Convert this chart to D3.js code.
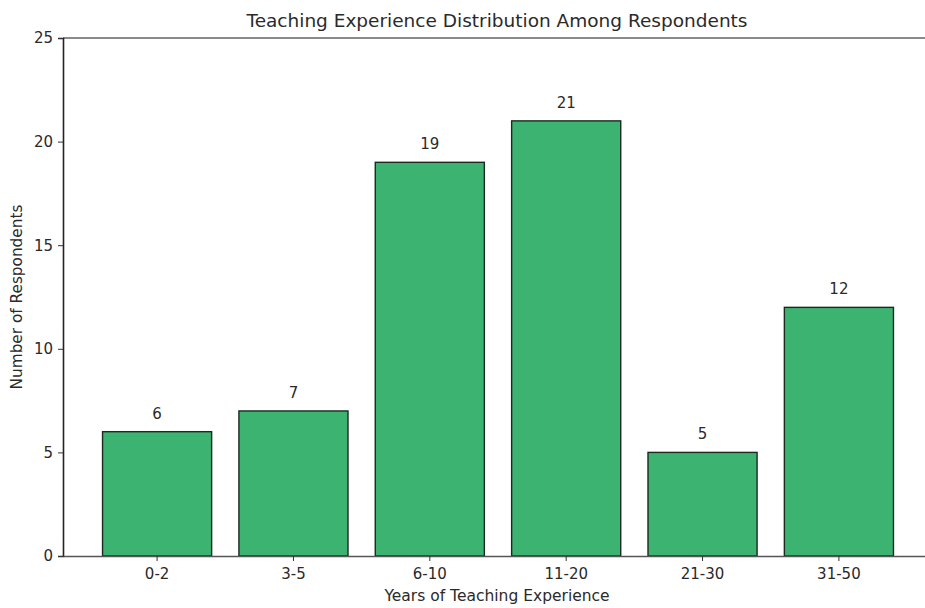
<!DOCTYPE html>
<html>
<head>
<meta charset="utf-8">
<script src="https://cdn.jsdelivr.net/npm/d3@7"></script>
<style>
  html, body { margin: 0; padding: 0; background: #fff; }
  svg { display: block; }
  text { font-family: "DejaVu Sans", sans-serif; fill: #2a2a2a; }
</style>
</head>
<body>
<svg id="chart" width="925" height="608"></svg>
<script>
// Years-of-experience bands and respondent counts
const categories = ["0-2", "3-5", "6-10", "11-20", "21-30", "31-50"];
const respondents = [6, 7, 19, 21, 5, 12];
const yTicks = [0, 5, 10, 15, 20, 25];

const svg = d3.select("#chart");
const plotLeft = 63, plotRight = 933, plotTop = 38, plotBottom = 556;

const x = d3.scaleBand()
  .domain(categories)
  .range([plotLeft, plotRight])
  .paddingInner(0.2)
  .paddingOuter(0.29);

const y = d3.scaleLinear().domain([0, 25]).range([plotBottom, plotTop]);

// Bars
svg.append("g").selectAll("rect")
  .data(categories)
  .join("rect")
  .attr("x", d => x(d))
  .attr("y", (d, i) => y(respondents[i]))
  .attr("width", x.bandwidth())
  .attr("height", (d, i) => y(0) - y(respondents[i]))
  .attr("fill", "#3cb371")
  .attr("stroke", "#1a2a20")
  .attr("stroke-width", 1.4);

// Value labels
svg.append("g").selectAll("text")
  .data(categories)
  .join("text")
  .attr("x", d => x(d) + x.bandwidth() / 2)
  .attr("y", (d, i) => y(respondents[i]) - 13)
  .attr("text-anchor", "middle")
  .attr("font-size", 15)
  .text((d, i) => respondents[i]);

// Top frame line
svg.append("line").attr("x1", plotLeft).attr("x2", 925).attr("y1", plotTop).attr("y2", plotTop)
  .attr("stroke", "#8a8a8a").attr("stroke-width", 2);

// Axes
const yAxis = svg.append("g")
  .attr("transform", `translate(${plotLeft},0)`)
  .call(d3.axisLeft(y).tickValues(yTicks).tickSize(5).tickPadding(5));
yAxis.select(".domain").attr("stroke", "#222").attr("stroke-width", 1.6);
yAxis.selectAll(".tick line").attr("stroke", "#333");
yAxis.selectAll(".tick text").attr("font-size", 15).attr("fill", "#2a2a2a")
  .style("font-family", "DejaVu Sans, sans-serif");

const xAxis = svg.append("g")
  .attr("transform", `translate(0,${plotBottom})`)
  .call(d3.axisBottom(x).tickSize(5).tickPadding(7).tickSizeOuter(0));
xAxis.select(".domain").attr("stroke", "#555").attr("stroke-width", 1.6);
xAxis.selectAll(".tick line").attr("stroke", "#333");
xAxis.selectAll(".tick text").attr("font-size", 15).attr("fill", "#2a2a2a")
  .style("font-family", "DejaVu Sans, sans-serif");

// Titles
svg.append("text")
  .attr("x", 497).attr("y", 27)
  .attr("text-anchor", "middle")
  .attr("font-size", 18.5)
  .text("Teaching Experience Distribution Among Respondents");

svg.append("text")
  .attr("x", 497).attr("y", 601)
  .attr("text-anchor", "middle")
  .attr("font-size", 15.5)
  .text("Years of Teaching Experience");

svg.append("text")
  .attr("transform", "translate(22,297) rotate(-90)")
  .attr("text-anchor", "middle")
  .attr("font-size", 15.3)
  .text("Number of Respondents");
</script>
</body>
</html>
